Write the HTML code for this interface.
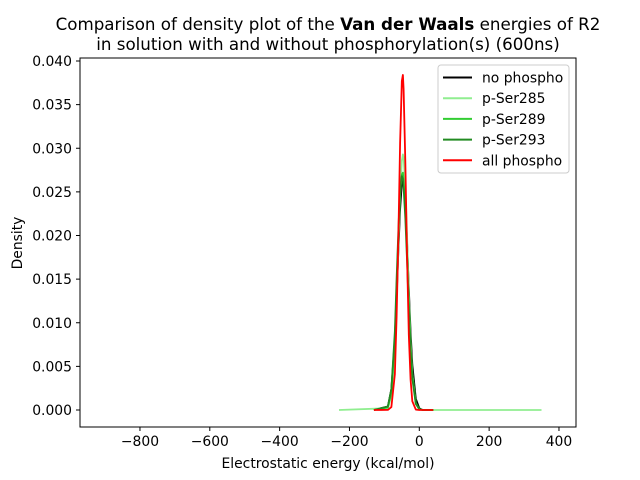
<!DOCTYPE html>
<html><head><meta charset="utf-8"><style>
body{margin:0;background:#fff}
svg{display:block;font-family:"DejaVu Sans","Liberation Sans",sans-serif}
</style></head><body>
<svg id="c" width="640" height="480" xmlns="http://www.w3.org/2000/svg">
<rect width="640" height="480" fill="#fff"/>
<text x="328" y="30" font-size="16.7" text-anchor="middle">Comparison of density plot of the <tspan font-weight="bold">Van der Waals</tspan> energies of R2</text>
<text x="328" y="50" font-size="16.7" text-anchor="middle">in solution with and without phosphorylation(s) (600ns)</text>
<g id="plot"></g>
<rect x="80" y="58" width="496" height="369" fill="none" stroke="#000" stroke-width="1"/>
<text x="328" y="468" font-size="13.9" text-anchor="middle">Electrostatic energy (kcal/mol)</text>
<text x="22" y="243" font-size="13.9" text-anchor="middle" transform="rotate(-90 22 243)">Density</text>
<g id="legend"></g>
</svg>
<script>
const xTicks=[-800,-600,-400,-200,0,200,400];
const yTicks=[0,0.005,0.010,0.015,0.020,0.025,0.030,0.035,0.040];
const seriesNames=["no phospho","p-Ser285","p-Ser289","p-Ser293","all phospho"];
const seriesColors=["#000000","#90ee90","#32cd32","#228b22","#ff0000"];
const gridX=[-90,-80,-70,-65,-60,-55,-50,-47,-45,-40,-35,-30,-25,-20,-10,0,10];
const noPhospho=[0.0004,0.0024,0.0082,0.0130,0.0182,0.0230,0.0260,0.0265,0.0263,0.0238,0.0192,0.0139,0.0090,0.0052,0.0013,0.0002,0];
const pSer285=[0.0002,0.0016,0.0070,0.0125,0.0185,0.0246,0.0286,0.0293,0.0290,0.0257,0.0199,0.0134,0.0080,0.0041,0.0007,0.0001,0];
const pSer289=[0.0003,0.0020,0.0080,0.0140,0.0195,0.0250,0.0270,0.0272,0.0262,0.0230,0.0180,0.0125,0.0075,0.0040,0.0008,0.0001,0];
const pSer293=[0.0004,0.0024,0.0090,0.0150,0.0205,0.0255,0.0268,0.0265,0.0255,0.0220,0.0170,0.0115,0.0068,0.0036,0.0007,0.0001,0];
const allPhospho=[0.00001,0.00034,0.0041,0.0107,0.0197,0.0306,0.0377,0.0384,0.0368,0.0284,0.0176,0.0086,0.0035,0.0010,0.00005,0,0];
const rangeMin=[-130,-230,-130,-130,-130];
const rangeMax=[40,350,40,40,40];
const seriesVals=[noPhospho,pSer285,pSer289,pSer293,allPhospho];
const NS="http://www.w3.org/2000/svg";
const xs=v=>419.3+v*0.34917;
const ys=v=>410-v*8725;
const svg=document.getElementById('c');
const plot=document.getElementById('plot');
function mk(t,a,p){const e=document.createElementNS(NS,t);for(const k in a)e.setAttribute(k,a[k]);(p||svg).appendChild(e);return e;}
xTicks.forEach(t=>{
  const l=mk('line',{x1:xs(t),x2:xs(t),y1:427,y2:431,stroke:'#000'});
  
  
  const tx=mk('text',{x:xs(t),y:446,'font-size':13.9,'text-anchor':'middle'});
  tx.textContent=(t<0?'\u2212'+(-t):t);
  
  
});
yTicks.forEach(t=>{
  const l=mk('line',{x1:76,x2:80,y1:ys(t),y2:ys(t),stroke:'#000'});
  
  
  const tx=mk('text',{x:72,y:ys(t)+5,'font-size':13.9,'text-anchor':'end'});
  tx.textContent=t.toFixed(3);
  
  
});
seriesVals.forEach((vals,i)=>{
  let pts=[[rangeMin[i],0]];
  gridX.forEach((x,j)=>pts.push([x,vals[j]]));
  pts.push([rangeMax[i],0]);
  const d=pts.map((p,k)=>(k?'L':'M')+xs(p[0]).toFixed(2)+','+ys(p[1]).toFixed(2)).join('');
  const p=mk('path',{d:d,fill:'none',stroke:seriesColors[i],'stroke-width':1.8,'stroke-linejoin':'round'},plot);
  
  
});
const lg=document.getElementById('legend');
const box=mk('rect',{x:438,y:65,width:131,height:108,rx:3,fill:'#fff','fill-opacity':0.8,stroke:'#ccc'},lg);


seriesNames.forEach((n,i)=>{
  const y=77.5+i*20.7;
  const l=mk('line',{x1:443,x2:472,y1:y,y2:y,stroke:seriesColors[i],'stroke-width':2},lg);
  
  
  const t=mk('text',{x:482,y:y+5,'font-size':13.9},lg);
  t.textContent=n;
  
  
});
</script>
</body></html>
